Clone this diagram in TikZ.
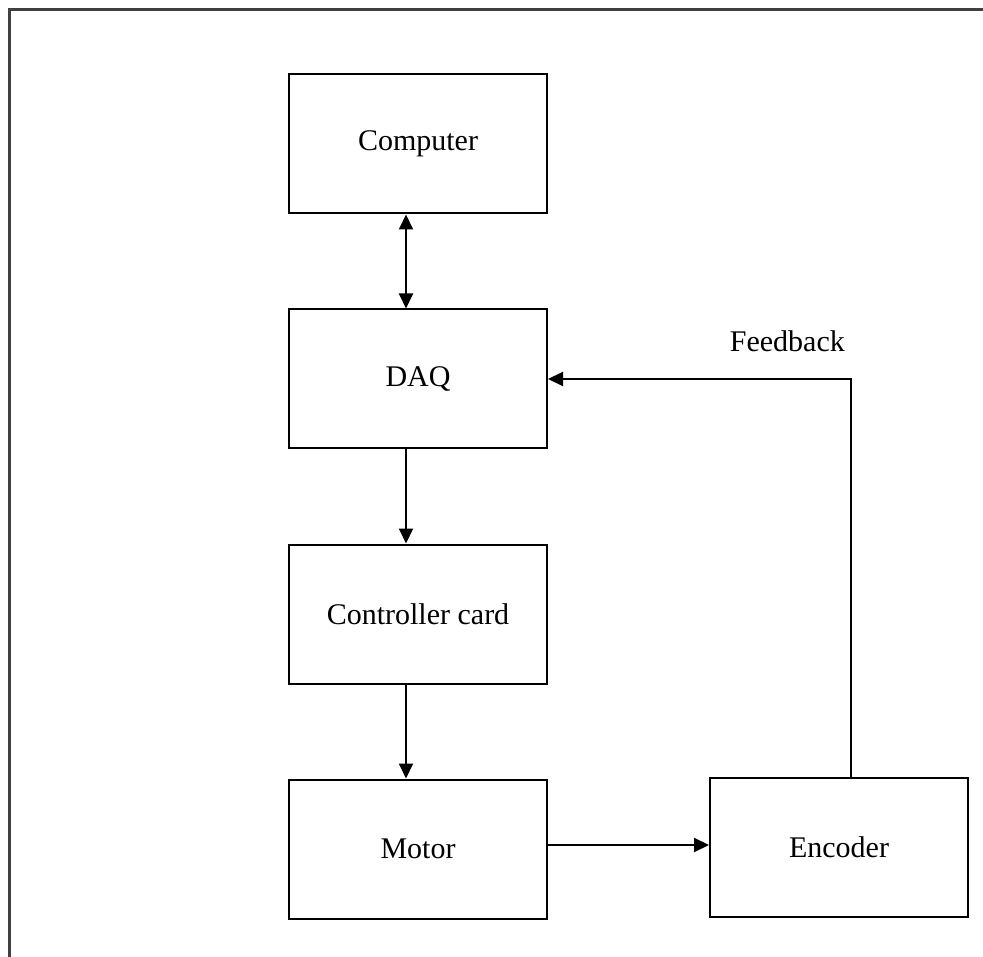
\documentclass[tikz,border=0pt]{standalone}
\usepackage{fontspec}
\setmainfont{Liberation Serif}
\usetikzlibrary{arrows.meta}

\begin{document}
\begin{tikzpicture}[x=1pt,y=-1pt,->,>={Triangle[length=15pt,width=14pt]},line width=2pt,node distance=235pt,
  block/.style={draw,rectangle,minimum width=258pt,minimum height=139pt,font=\fontsize{30}{36}\selectfont}]

            \useasboundingbox (0,0) rectangle (983,957);
            \draw[-,line width=3pt,black!75] (9,957) -- (9,10) -- (983,10);

            \node[block] (comp) at (418,144) {Computer};
            \node[block] (daq) [below of = comp] {DAQ};
            \node[block] (card) [below of = daq] {Controller card};
            \node[block] (mot) [below of = card] {Motor};
            \node[block] (enc) [right of = mot, node distance=421pt, yshift=2pt] {Encoder};

            \draw[<->] ([xshift=-12pt]comp.south) to ([xshift=-12pt]daq.north);
            \draw ([xshift=-12pt]daq.south) to ([xshift=-12pt]card.north);
            \draw ([xshift=-12pt]card.south) to ([xshift=-12pt]mot.north);
            \draw ([yshift=4pt]mot.east) to ([yshift=4pt]mot.east -| enc.west);
            \draw ([xshift=12pt]enc.north) |- node[pos=0.605,above=23pt,font=\fontsize{30}{36}\selectfont] {Feedback} (daq.east);

            ;
        \end{tikzpicture}
\end{document}
